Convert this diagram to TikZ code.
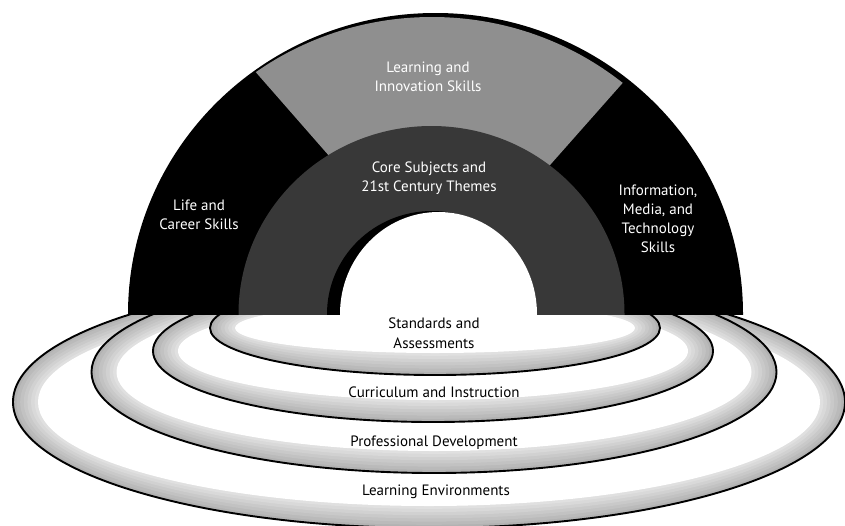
\documentclass[tikz,border=0pt]{standalone}
\usepackage{fontspec}
\setmainfont{PT Sans}
\definecolor{secgray}{gray}{0.56}
\definecolor{ringdark}{gray}{0.22}
\tikzset{
  wtext/.style={text=white, align=center, inner sep=0pt, font=\fontsize{15}{19}\selectfont},
  btext/.style={text=black, align=center, inner sep=0pt, font=\fontsize{15}{20}\selectfont},
  ringline/.style={draw=black, line width=1.9pt}
}
\begin{document}
\begin{tikzpicture}[x=1pt,y=-1pt]
\useasboundingbox (0,0) rectangle (845,525);
\fill[white] (0,0) rectangle (845,525);

% ---- concentric platform rings (below the arch base) ----
\begin{scope}
  \clip (0,314) rectangle (845,525);
  \foreach \cx/\cy/\rx/\ry in {429/402/416/126, 434/372/342.5/101, 433/351/280/71, 435/328/225/47} {
    \foreach \i in {0,...,6} {
      \pgfmathsetmacro\ra{\rx-\i*3.6}
      \pgfmathsetmacro\rb{\ry-\i*3.2}
      \pgfmathsetmacro\gv{0.70+\i*0.03}
      \definecolor{bandc}{gray}{\gv}
      \fill[bandc] (\cx,\cy) ellipse [x radius=\ra pt, y radius=\rb pt];
    }
    \pgfmathsetmacro\ra{\rx-25}\pgfmathsetmacro\rb{\ry-22}
    \fill[white] (\cx,\cy) ellipse [x radius=\ra pt, y radius=\rb pt];
    \draw[ringline] (\cx,\cy) ellipse [x radius=\rx pt, y radius=\ry pt];
  }
\end{scope}

% ---- the arch ----
\begin{scope}
  \clip (0,0) rectangle (845,314);
  \fill[black] (435.5,314) ellipse [x radius=307.5pt, y radius=301pt];
  \begin{scope}
    \clip (218,29) -- (443,286) -- (658,43) -- (658,-20) -- (218,-20) -- cycle;
    \fill[secgray] (432,315) ellipse [x radius=304pt, y radius=298pt];
  \end{scope}
  \fill[ringdark] (431.5,314) ellipse [x radius=193pt, y radius=188pt];
  \fill[black] (432,314) ellipse [x radius=105pt, y radius=103pt];
  \fill[white] (438.5,314) ellipse [x radius=98.5pt, y radius=102pt];
\end{scope}

% ---- labels ----
\node[wtext] (lis) at (428,77) {Learning and\\Innovation Skills};
\node[wtext] (core) at (429,178) {Core Subjects and\\21st Century Themes};
\node[wtext] (life) at (199,215) {Life and\\Career Skills};
\node[wtext] (imt) at (658,219) {Information,\\Media, and\\Technology\\Skills};
\node[btext] (sa) at (434,333) {Standards and\\Assessments};
\node[btext] (ci) at (434,392) {Curriculum and Instruction};
\node[btext] (pd) at (434,443) {Professional Development};
\node[btext] (le) at (436,492) {Learning Environments};
\end{tikzpicture}
\end{document}
